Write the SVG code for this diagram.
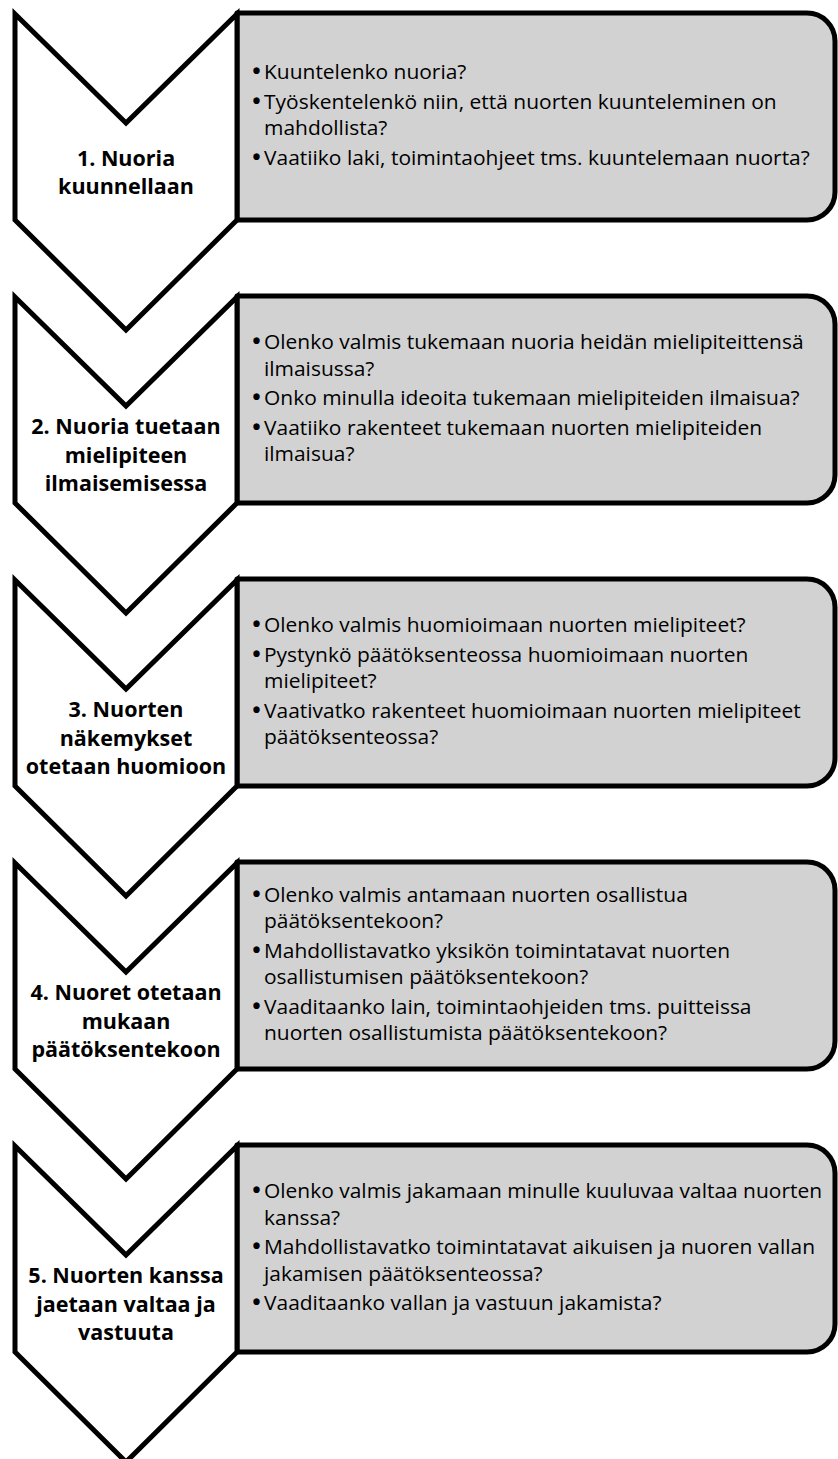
<svg xmlns="http://www.w3.org/2000/svg" width="838" height="1459" viewBox="0 0 838 1459">
<style>
.chev{fill:#ffffff;stroke:#000;stroke-width:5;stroke-linejoin:miter;stroke-miterlimit:10}
.box{fill:#d2d2d2;stroke:#000;stroke-width:5;stroke-linejoin:round}
.ct{font-family:"Open Sans","Liberation Sans",sans-serif;font-weight:bold;font-size:21.5px;text-anchor:middle;fill:#000}
.bt{font-family:"Open Sans","Liberation Sans",sans-serif;font-size:19.5px;fill:#000}
.bl{font-size:21px;font-weight:bold}
</style>
<rect width="838" height="1459" fill="#ffffff"/>
<g id="step1">
<path class="box" d="M237,13 H807 A28,28 0 0 1 835,41 V192 A28,28 0 0 1 807,220 H237 Z"/>
<path class="chev" d="M15,14 L126,123 L237,14 V220 L126,330 L15,220 Z"/>
<text class="ct" x="126" y="166">1. Nuoria</text>
<text class="ct" x="126" y="194">kuunnellaan</text>
<g class="bt" transform="translate(264 0) scale(1.075 1)">
<text x="-11" y="79.5"><tspan class="bl">•</tspan><tspan x="0">Kuuntelenko nuoria?</tspan></text>
<text x="-11" y="109"><tspan class="bl">•</tspan><tspan x="0">Työskentelenkö niin, että nuorten kuunteleminen on</tspan></text>
<text x="0" y="135.5">mahdollista?</text>
<text x="-11" y="165"><tspan class="bl">•</tspan><tspan x="0">Vaatiiko laki, toimintaohjeet tms. kuuntelemaan nuorta?</tspan></text>
</g>
</g>
<g id="step2">
<path class="box" d="M237,296 H807 A28,28 0 0 1 835,324 V475 A28,28 0 0 1 807,503 H237 Z"/>
<path class="chev" d="M15,297 L126,406 L237,297 V503 L126,613 L15,503 Z"/>
<text class="ct" x="126" y="434">2. Nuoria tuetaan</text>
<text class="ct" x="126" y="462.5">mielipiteen</text>
<text class="ct" x="126" y="491">ilmaisemisessa</text>
<g class="bt" transform="translate(264 0) scale(1.075 1)">
<text x="-11" y="349.25"><tspan class="bl">•</tspan><tspan x="0">Olenko valmis tukemaan nuoria heidän mielipiteittensä</tspan></text>
<text x="0" y="375.75">ilmaisussa?</text>
<text x="-11" y="405.25"><tspan class="bl">•</tspan><tspan x="0">Onko minulla ideoita tukemaan mielipiteiden ilmaisua?</tspan></text>
<text x="-11" y="434.75"><tspan class="bl">•</tspan><tspan x="0">Vaatiiko rakenteet tukemaan nuorten mielipiteiden</tspan></text>
<text x="0" y="461.25">ilmaisua?</text>
</g>
</g>
<g id="step3">
<path class="box" d="M237,579 H807 A28,28 0 0 1 835,607 V758 A28,28 0 0 1 807,786 H237 Z"/>
<path class="chev" d="M15,580 L126,689 L237,580 V786 L126,896 L15,786 Z"/>
<text class="ct" x="126" y="717">3. Nuorten</text>
<text class="ct" x="126" y="745.5">näkemykset</text>
<text class="ct" x="126" y="774">otetaan huomioon</text>
<g class="bt" transform="translate(264 0) scale(1.075 1)">
<text x="-11" y="632.25"><tspan class="bl">•</tspan><tspan x="0">Olenko valmis huomioimaan nuorten mielipiteet?</tspan></text>
<text x="-11" y="661.75"><tspan class="bl">•</tspan><tspan x="0">Pystynkö päätöksenteossa huomioimaan nuorten</tspan></text>
<text x="0" y="688.25">mielipiteet?</text>
<text x="-11" y="717.75"><tspan class="bl">•</tspan><tspan x="0">Vaativatko rakenteet huomioimaan nuorten mielipiteet</tspan></text>
<text x="0" y="744.25">päätöksenteossa?</text>
</g>
</g>
<g id="step4">
<path class="box" d="M237,862 H807 A28,28 0 0 1 835,890 V1041 A28,28 0 0 1 807,1069 H237 Z"/>
<path class="chev" d="M15,863 L126,972 L237,863 V1069 L126,1179 L15,1069 Z"/>
<text class="ct" x="126" y="1000">4. Nuoret otetaan</text>
<text class="ct" x="126" y="1028.5">mukaan</text>
<text class="ct" x="126" y="1057">päätöksentekoon</text>
<g class="bt" transform="translate(264 0) scale(1.075 1)">
<text x="-11" y="902"><tspan class="bl">•</tspan><tspan x="0">Olenko valmis antamaan nuorten osallistua</tspan></text>
<text x="0" y="928.5">päätöksentekoon?</text>
<text x="-11" y="958"><tspan class="bl">•</tspan><tspan x="0">Mahdollistavatko yksikön toimintatavat nuorten</tspan></text>
<text x="0" y="984.5">osallistumisen päätöksentekoon?</text>
<text x="-11" y="1014"><tspan class="bl">•</tspan><tspan x="0">Vaaditaanko lain, toimintaohjeiden tms. puitteissa</tspan></text>
<text x="0" y="1040.5">nuorten osallistumista päätöksentekoon?</text>
</g>
</g>
<g id="step5">
<path class="box" d="M237,1145 H807 A28,28 0 0 1 835,1173 V1324 A28,28 0 0 1 807,1352 H237 Z"/>
<path class="chev" d="M15,1146 L126,1255 L237,1146 V1352 L126,1462 L15,1352 Z"/>
<text class="ct" x="126" y="1283">5. Nuorten kanssa</text>
<text class="ct" x="126" y="1311.5">jaetaan valtaa ja</text>
<text class="ct" x="126" y="1340">vastuuta</text>
<g class="bt" transform="translate(264 0) scale(1.075 1)">
<text x="-11" y="1198.25"><tspan class="bl">•</tspan><tspan x="0">Olenko valmis jakamaan minulle kuuluvaa valtaa nuorten</tspan></text>
<text x="0" y="1224.75">kanssa?</text>
<text x="-11" y="1254.25"><tspan class="bl">•</tspan><tspan x="0">Mahdollistavatko toimintatavat aikuisen ja nuoren vallan</tspan></text>
<text x="0" y="1280.75">jakamisen päätöksenteossa?</text>
<text x="-11" y="1310.25"><tspan class="bl">•</tspan><tspan x="0">Vaaditaanko vallan ja vastuun jakamista?</tspan></text>
</g>
</g>
<g id="connectors"></g>
</svg>
